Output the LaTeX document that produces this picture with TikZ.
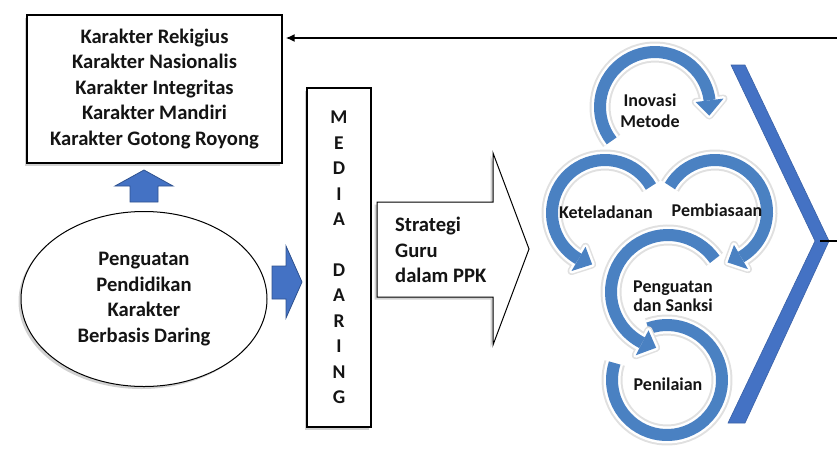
\documentclass[tikz,border=0pt]{standalone}
\usepackage{fontspec}
\setmainfont{Carlito}[BoldFont={Carlito Bold}]
\usetikzlibrary{shapes.geometric,shadows,arrows.meta}
\definecolor{ringblue}{HTML}{4A81C2}
\definecolor{blockblue}{HTML}{4472C4}
\definecolor{blockedge}{HTML}{2F528F}
\definecolor{txt}{HTML}{141414}
\newcommand\ringarc[5]{\draw[#5] ([shift={({#3}:{#2})}]#1) arc[start angle=#3, end angle=#4, radius=#2];}
\newcommand\ringtip[5]{\filldraw[#5] ([shift={({#3}:{#2-14})}]#1) -- ([shift={({#3}:{#2+14})}]#1) -- ([shift={({#4}:{#2})}]#1) -- cycle;}
\newcommand\ringwithtip[5]{%
  \ringarc{#1}{#2}{#3}{#4}{ringshadow}\ringtip{#1}{#2}{#4}{#5}{ringshadowtip}%
  \ringarc{#1}{#2}{#3}{#4}{ringwhite}\ringtip{#1}{#2}{#4}{#5}{ringwhitetip}%
  \ringarc{#1}{#2}{#3}{#4}{ringfront}\ringtip{#1}{#2}{#4}{#5}{ringfronttip}}
\begin{document}
\begin{tikzpicture}[x=1pt,y=-1pt,
  maintext/.style={font=\bfseries\fontsize{20.6}{25.5}\selectfont, text=txt},
  ringtext/.style={font=\bfseries\fontsize{18}{21}\selectfont, text=txt, align=center, inner sep=0pt},
  softshadow/.style={drop shadow={shadow xshift=-2.5pt, shadow yshift=-2.5pt, opacity=.18, fill=black}},
  ringshadow/.style={draw=black!12, line width=21pt},
  ringshadowtip/.style={fill=black!12, draw=black!12, line width=8pt, line join=round},
  ringwhite/.style={draw=white, line width=17pt},
  ringwhitetip/.style={fill=white, draw=white, line width=5pt, line join=round},
  ringfront/.style={draw=ringblue, line width=12pt},
  ringfronttip/.style={fill=ringblue, draw=none},
  blockarrow/.style={fill=blockblue, draw=blockedge, line width=.8pt, line join=miter}
]
\useasboundingbox (0,0) rectangle (837,450);

% characters box
\node[draw, line width=1.2pt, fill=white, minimum width=255pt, minimum height=148pt,
      align=center, maintext, softshadow] (chars) at (154.5,89)
  {Karakter Rekigius\\Karakter Nasionalis\\Karakter Integritas\\Karakter Mandiri\\Karakter Gotong Royong};

% ellipse
\node[ellipse, draw, line width=1pt, fill=white, minimum width=246pt, minimum height=175pt,
      inner sep=0pt, align=center, maintext, softshadow] (ppk) at (144,299)
  {Penguatan\\Pendidikan\\Karakter\\Berbasis Daring};

% up arrow
\filldraw[blockarrow] (144,170) -- (173,186) -- (158,186) -- (158,202) -- (130,202) -- (130,186) -- (115,186) -- cycle;
% right arrow
\filldraw[blockarrow] (272,266) -- (286,266) -- (286,246) -- (302,282) -- (286,318) -- (286,299) -- (272,299) -- cycle;

% media box
\node[draw, line width=1.2pt, fill=white, minimum width=64pt, minimum height=339pt,
      align=center, font=\bfseries\fontsize{19.5}{25.45}\selectfont, text=txt, softshadow] (media) at (339,257.5)
  {M\\E\\D\\I\\A\\[25.45pt]D\\A\\R\\I\\N\\G};

% white block arrow
\filldraw[draw=black, line width=1pt, fill=white, line join=miter, softshadow]
  (377,202) -- (493,202) -- (493,153) -- (529,249) -- (493,345) -- (493,297) -- (377,297) -- cycle;
\node[maintext, align=left, anchor=west, inner sep=0pt] (strat) at (395,250) {Strategi\\Guru\\dalam PPK};

% rings
\coordinate (cPen) at (667,380);
\coordinate (cPeng) at (668,292);
\coordinate (cKet) at (605,213);
\coordinate (cPem) at (715,212);
\coordinate (cIno) at (655,107);

\ringarc{cPen}{55}{-110}{198}{ringshadow}
\ringarc{cPen}{55}{-110}{198}{ringwhite}
\ringarc{cPen}{55}{-110}{198}{ringfront}
\ringwithtip{cPeng}{57}{-35}{-243}{-258}
\ringwithtip{cKet}{53}{-30}{-240}{-256}
\ringwithtip{cPem}{52}{-150}{60}{76}
\ringwithtip{cIno}{55}{-218}{-7}{9}

\node[ringtext] (tIno) at (650,111) {Inovasi\\Metode};
\node[ringtext] (tKet) at (606,212) {Keteladanan};
\node[ringtext] (tPem) at (717,210) {Pembiasaan};
\node[ringtext, font=\bfseries\fontsize{18}{19.5}\selectfont] (tPeng) at (673,296) {Penguatan\\dan Sanksi};
\node[ringtext] (tPen) at (668,384) {Penilaian};

% chevron
\filldraw[fill=blockblue, draw=blockblue!85!black, line width=.6pt]
  (731,65) -- (745,65) -- (829,241) -- (745,423) -- (728,423) -- (815,241) -- cycle;

% feedback lines
\coordinate (chevTip) at (820,241);
\coordinate (feedM) at (837,241);
\coordinate (feedR) at (837,38);
\draw[line width=2pt] (chevTip) -- (feedM);
\draw[line width=2pt, -{Latex[length=9pt,width=8pt]}, shorten >=3pt] (feedR) -- (feedR -| chars.east);
\end{tikzpicture}
\end{document}
